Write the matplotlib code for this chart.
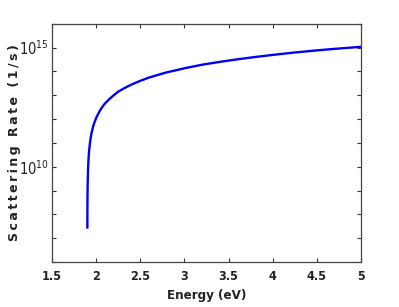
import matplotlib
matplotlib.use("Agg")
import matplotlib.pyplot as plt
from matplotlib.ticker import FixedLocator, NullFormatter

plt.rcParams["mathtext.fontset"] = "custom"
plt.rcParams["mathtext.rm"] = "DejaVu Sans:stretch=condensed"
plt.rcParams["mathtext.it"] = "DejaVu Sans:stretch=condensed"
plt.rcParams["mathtext.bf"] = "DejaVu Sans:weight=bold:stretch=condensed"
plt.rcParams["mathtext.default"] = "rm"

energy = [1.9005, 1.901, 1.902, 1.904, 1.907, 1.91, 1.915, 1.92, 1.93, 1.94,
          1.95, 1.965, 1.98, 2.0, 2.025, 2.05, 2.075, 2.1, 2.15, 2.2,
          2.25, 2.3, 2.4, 2.5, 2.6, 2.7, 2.8, 2.9, 3.0, 3.2,
          3.4, 3.6, 3.8, 4.0, 4.25, 4.5, 4.75, 5.0]
rate = [2.8e7, 1.1e8, 4.5e8, 1.8e9, 5.5e9, 1.1e10, 2.5e10, 4.5e10, 1.0e11, 1.8e11,
        2.8e11, 4.7e11, 7.1e11, 1.1e12, 1.7e12, 2.5e12, 3.4e12, 4.5e12, 6.9e12, 1.0e13,
        1.4e13, 1.8e13, 2.8e13, 4.0e13, 5.5e13, 7.1e13, 9.1e13, 1.1e14, 1.35e14, 1.9e14,
        2.5e14, 3.2e14, 4.0e14, 4.9e14, 6.2e14, 7.6e14, 9.1e14, 1.07e15]
xticks = [1.5, 2, 2.5, 3, 3.5, 4, 4.5, 5]
xticklabels = ["1.5", "2", "2.5", "3", "3.5", "4", "4.5", "5"]
yticks = [1e10, 1e15]
yticklabels = [r"$10^{10}$", r"$10^{15}$"]
yminor = [10.0 ** k for k in range(6, 17)]
ylabel_text = "Scattering Rate (1/s)"
xlabel_text = "Energy (eV)"

fig = plt.figure(figsize=(3.99, 3.07), dpi=100)
ax = fig.add_axes([0.1303, 0.1466, 0.7745, 0.7762])
ax.plot(energy, rate, color="#0000ff", lw=1.7)
ax.set_yscale("log")
ax.set_xlim(1.5, 5)
ax.set_ylim(1e6, 1e16)

ax.xaxis.set_major_locator(FixedLocator(xticks))
ax.set_xticklabels(xticklabels, fontsize=9, fontweight="bold",
                   fontfamily="DejaVu Sans", fontstretch="condensed", color="#222222")
ax.yaxis.set_major_locator(FixedLocator(yticks))
ax.set_yticklabels(yticklabels, fontsize=10.5, color="#222222")
ax.yaxis.set_minor_locator(FixedLocator(yminor))
ax.yaxis.set_minor_formatter(NullFormatter())

ax.tick_params(which="both", direction="in", top=True, right=True,
               length=3, width=0.8, color="#333333")
ax.tick_params(axis="x", pad=6)
ax.tick_params(axis="y", pad=2)
for s in ax.spines.values():
    s.set_color("#444444")
    s.set_linewidth(0.9)

ax.set_xlabel(xlabel_text, fontsize=9.5, fontweight="bold", color="#222222",
              fontfamily="DejaVu Sans", fontstretch="condensed", labelpad=4)
spaced = "\u2009".join(ylabel_text)
fig.text(15 / 399, 0.5353, spaced, rotation=90, fontsize=9, fontweight="bold",
         color="#222222", ha="center", va="center")

fig.savefig("out.png", dpi=100)
